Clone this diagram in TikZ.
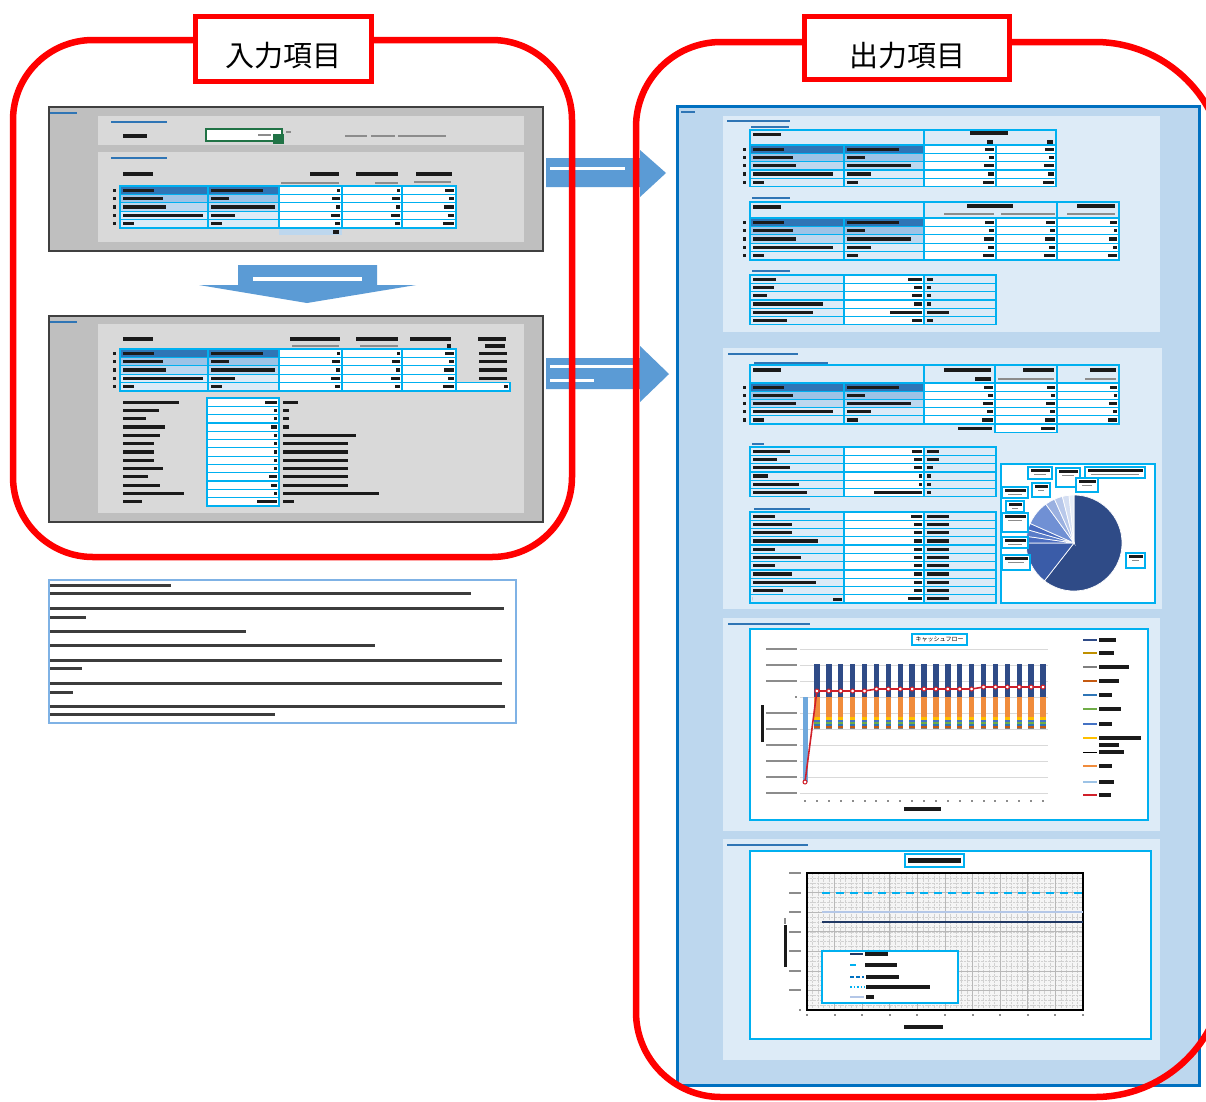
\documentclass[tikz,border=0pt]{standalone}
\usepackage{fontspec}
\newfontfamily\cjk{Noto Sans CJK JP}
\usetikzlibrary{arrows.meta, positioning, shadows}

\definecolor{framered}{HTML}{FF0000}
\definecolor{sheetgrey}{HTML}{BFBFBF}
\definecolor{boxgrey}{HTML}{D9D9D9}
\definecolor{arrowblue}{HTML}{5B9BD5}
\definecolor{outblue}{HTML}{0070C0}
\definecolor{outfill}{HTML}{BDD7EE}
\definecolor{subfill}{HTML}{DDEBF7}
\definecolor{cellcyan}{HTML}{00B0F0}
\definecolor{rowa}{HTML}{2E75B6}
\definecolor{rowb}{HTML}{9DC3E6}
\definecolor{rowc}{HTML}{BDD7EE}
\definecolor{rowd}{HTML}{DDEBF7}
\definecolor{inkblack}{HTML}{1A1A1A}
\definecolor{inkblue}{HTML}{2F75B5}
\definecolor{inputgreen}{HTML}{217346}
\definecolor{notebox}{HTML}{7FB2E5}
\definecolor{navy}{HTML}{2F4B87}
\definecolor{cforange}{HTML}{F08C3C}
\definecolor{cfyellow}{HTML}{FFC000}
\definecolor{cfblue}{HTML}{4472C4}
\definecolor{cfgreen}{HTML}{70AD47}
\definecolor{cfdblue}{HTML}{2E75B6}
\definecolor{cfbrown}{HTML}{C55A11}
\definecolor{cfgrey}{HTML}{7F7F7F}
\definecolor{cfgold}{HTML}{BF9000}
\definecolor{cfpale}{HTML}{6FA8DC}
\definecolor{cflight}{HTML}{9DC3E6}
\definecolor{cfred}{HTML}{D0202A}
\definecolor{lavender}{HTML}{B4C7E7}
\definecolor{deepnavy}{HTML}{203864}
\definecolor{pieb}{HTML}{3A5CA8}
\definecolor{piec}{HTML}{4A6CC0}
\definecolor{pied}{HTML}{5A7CC8}
\definecolor{piee}{HTML}{7090D4}
\definecolor{pief}{HTML}{9AB0E0}
\definecolor{pieg}{HTML}{B8C8EA}
\definecolor{pieh}{HTML}{D4DEF2}
\definecolor{piei}{HTML}{E8EEF8}

% blurred text shown as bars
\newcommand{\txbar}[3]{\fill[ink] (#1,{#2-1.6}) rectangle ++(#3,3.2);}
\newcommand{\txright}[3]{\fill[ink] (#1,{#2-1.6}) rectangle ++(-#3,3.2);}
\newcommand{\txblue}[3]{\fill[inkb] (#1,{#2-1.4}) rectangle ++(#3,2.8);}
\newcommand{\txgrey}[3]{\fill[inkg] (#1,{#2-1.2}) rectangle ++(#3,2.4);}

% five item rows with coloured label cells
\newcommand{\itemrows}[5]{%
  \foreach \ri/\rc/\wa/\wb in {0/rowa/31/52,1/rowb/40/18,2/rowc/43/64,3/rowd/80/24,4/rowd/11/11}{
    \draw[cell, fill=\rc] (#1,{#4+\ri*#5}) rectangle (#2,{#4+\ri*#5+#5});
    \draw[cell, fill=\rc] (#2,{#4+\ri*#5}) rectangle (#3,{#4+\ri*#5+#5});
    \fill[ink] ({#1+2.5},{#4+\ri*#5+#5/2-1.6}) rectangle ++(\wa,3.2);
    \fill[ink] ({#2+2.5},{#4+\ri*#5+#5/2-1.6}) rectangle ++(\wb,3.2);
    \fill[ink] ({#1-7},{#4+\ri*#5+#5/2-1.6}) rectangle ++(3,3.2);
  }}

% white number cells
\newcommand{\numcells}[4]{%
  \foreach \ri in {0,...,#3}{
    \foreach \xa/\xb in {#4}{
      \draw[cell, fill=white] (\xa,{#1+\ri*#2}) rectangle (\xb,{#1+\ri*#2+#2});
      \fill[ink] ({\xb-2.5},{#1+\ri*#2+#2/2-1.6}) rectangle ++({-3-mod(\ri*5+\xa,9)},3.2);
    }}}

% label / value / unit rows
\newcommand{\kvtable}[3]{%
  \foreach \ri/\wa/\wn/\wu in {#3}{
    \draw[cell, fill=rowd] (750,{#1+\ri*#2}) rectangle (844,{#1+\ri*#2+#2});
    \draw[cell, fill=white] (844,{#1+\ri*#2}) rectangle (924,{#1+\ri*#2+#2});
    \draw[cell, fill=rowd] (924,{#1+\ri*#2}) rectangle (996,{#1+\ri*#2+#2});
    \fill[ink] (752.5,{#1+\ri*#2+#2/2-1.6}) rectangle ++(\wa,3.2);
    \fill[ink] (921.5,{#1+\ri*#2+#2/2-1.6}) rectangle ++(-\wn,3.2);
    \fill[ink] (926.5,{#1+\ri*#2+#2/2-1.6}) rectangle ++(\wu,3.2);
  }}

\begin{document}
\begin{tikzpicture}[x=1pt, y=-1pt,
    redframe/.style={draw=framered, line width=6.5pt},
    titlebox/.style={draw=framered, line width=5pt, fill=white, inner sep=0pt},
    titletext/.style={inner sep=0pt, font=\cjk\fontsize{29}{32}\selectfont},
    sheet/.style={fill=sheetgrey, draw=black!75, line width=2pt},
    cell/.style={draw=cellcyan, line width=1.2pt},
    ink/.style={fill=inkblack},
    inkb/.style={fill=inkblue},
    inkg/.style={fill=black!45},
    chartbox/.style={draw=cellcyan, line width=2pt, fill=white},
    ctitle/.style={draw=cellcyan, line width=1.5pt, fill=white, inner sep=0pt,
      drop shadow={shadow xshift=1.2pt, shadow yshift=-1.2pt, fill=black!35}},
    cfgrid/.style={draw=black!15, line width=0.8pt},
    cfline/.style={draw=cfred, line width=1.6pt},
    cfmark/.style={draw=cfred, fill=white, line width=1pt},
    minorgrid/.style={draw=black!18, line width=0.4pt, densely dotted},
    majorgrid/.style={draw=black!28, line width=0.7pt}]
\useasboundingbox (0,0) rectangle (1206,1101);
\clip (0,0) rectangle (1206,1101);
\fill[white] (0,0) rectangle (1206,1101);

% ---- input sheet, upper part
\draw[sheet] (49,107) rectangle (543,251);
\fill[boxgrey] (98,116) rectangle (524,145);
\fill[boxgrey] (98,152) rectangle (524,242);
\txblue{50}{113}{27}
\txblue{111}{122}{56}
\txbar{123}{136}{24}
\draw[draw=inputgreen, line width=2.5pt, fill=white] (206,129) rectangle (282,141);
\fill[inputgreen] (273,134) rectangle (284,144);
\txgrey{258}{135}{13}
\txgrey{286}{132}{5}
\txgrey{345}{136}{22}
\txgrey{371}{136}{24}
\txgrey{398}{136}{48}
\txblue{111}{158}{56}
\txbar{123}{174}{30}
\txbar{310}{174}{29}
\txgrey{281}{183}{58}
\txbar{356}{174}{42}
\txgrey{375}{183}{23}
\txbar{416}{174}{36}
\txgrey{414}{182}{37}
\itemrows{120}{208}{279}{186}{8.4}
\numcells{186}{8.4}{4}{279/342,342/402,402/456}
\fill[rowc] (279,229) rectangle (342,235);
\txright{339}{232}{6}

% ---- arrow between input sheets
\fill[arrowblue] (238,265) -- (377,265) -- (377,285) -- (416,285) -- (307,303)
  -- (199,285) -- (238,285) -- cycle;
\fill[white] (253,276.5) rectangle (362,280.5);

% ---- input sheet, lower part
\draw[sheet] (49,316) rectangle (543,522);
\fill[boxgrey] (98,324) rectangle (524,513);
\txblue{50}{322}{27}
\txbar{123}{339}{30}
\txbar{290}{339}{50}
\txgrey{292}{346}{47}
\txbar{356}{339}{42}
\txgrey{360}{346}{38}
\txbar{410}{339}{41}
\txbar{447}{346}{4}
\txbar{478}{339}{28}
\txbar{485}{346}{20}
\itemrows{120}{208}{279}{349}{8.4}
\numcells{349}{8.4}{4}{279/342,342/402,402/456}
\draw[cell, fill=white] (456,382.6) rectangle (510,391);
\txright{507.5}{386.8}{4}
\foreach \ri in {0,...,3}{
  \fill[ink] (479,{353.2+\ri*8.4-1.6}) rectangle ++(28,3.2);
}
\foreach \ri/\wa/\wn/\wu in {0/56/12/15,1/36/3/6,2/23/3/6,3/42/6/6,4/37/3/73,
    5/31/3/65,6/31/3/65,7/31/3/65,8/40/3/65,9/25/8/65,10/37/6/65,11/61/3/96,12/19/20/11}{
  \fill[ink] (123,{402.15+\ri*8.3-1.6}) rectangle ++(\wa,3.2);
  \draw[cell, fill=white] (207,{398+\ri*8.3}) rectangle (279,{406.3+\ri*8.3});
  \fill[ink] (276.5,{402.15+\ri*8.3-1.6}) rectangle ++(-\wn,3.2);
  \fill[ink] (283,{402.15+\ri*8.3-1.6}) rectangle ++(\wu,3.2);
}

% ---- note box
\draw[draw=notebox, line width=1.5pt, fill=white] (49,580) rectangle (516,723);
\foreach \ly/\lx in {585/171,593/471,608/504,617/86,631/246,645/375,660/502,
    668/82,683/502,692/73,706/505,714/275}{
  \fill[ink, opacity=.85] (50,{\ly-1.5}) rectangle (\lx,{\ly+1.5});
}

% ---- arrows to the output
\fill[arrowblue] (546,158) -- (640,158) -- (640,150) -- (666,173) -- (640,197)
  -- (640,187) -- (546,187) -- cycle;
\fill[white] (550,166.5) rectangle (625,170);
\fill[arrowblue] (546,358) -- (640,358) -- (640,346) -- (669,374) -- (640,402)
  -- (640,389) -- (546,389) -- cycle;
\fill[white] (550,364.5) rectangle (633,368);
\fill[white] (550,378.5) rectangle (594,382);

% ---- output sheet
\draw[draw=outblue, line width=3pt, fill=outfill] (677,106) rectangle (1199,1085);
\txblue{681}{112}{14}
\fill[subfill] (723,116) rectangle (1160,332);
\fill[subfill] (723,348) rectangle (1162,609);
\fill[subfill] (723,618) rectangle (1160,831);
\fill[subfill] (723,839) rectangle (1160,1060);

% first block
\txblue{727}{121}{63}
\txblue{751}{127}{38}
\draw[cell, fill=subfill] (750,130) rectangle (924,145);
\draw[cell, fill=subfill] (924,130) rectangle (1056,145);
\txbar{753}{134.5}{28}
\txbar{970}{133}{38}
\txright{993}{142}{6}
\txright{1053}{142}{6}
\itemrows{750}{844}{924}{145}{8.3}
\numcells{145}{8.3}{4}{924/996,996/1056}

\txblue{752}{198}{38}
\draw[cell, fill=subfill] (750,202) rectangle (924,218);
\draw[cell, fill=subfill] (924,202) rectangle (1057,218);
\draw[cell, fill=subfill] (1057,202) rectangle (1119,218);
\txbar{753}{207}{28}
\txbar{967}{206}{46}
\txgrey{944}{214}{50}
\txgrey{1001}{214}{54}
\txbar{1077}{206}{38}
\txgrey{1067}{214}{48}
\itemrows{750}{844}{924}{218}{8.4}
\numcells{218}{8.4}{4}{924/996,996/1057,1057/1119}

\txblue{752}{271}{38}
\kvtable{275}{8.3}{0/23/14/6,1/21/8/4,2/14/10/4,3/70/8/4,4/60/32/22,5/34/10/6}

% second block
\txblue{728}{354}{70}
\txblue{754}{363}{74}
\draw[cell, fill=subfill] (750,365) rectangle (924,383);
\draw[cell, fill=subfill] (924,365) rectangle (995,383);
\draw[cell, fill=subfill] (995,365) rectangle (1057,383);
\draw[cell, fill=subfill] (1057,365) rectangle (1119,383);
\txbar{753}{370}{28}
\txbar{944}{370}{47}
\txbar{975}{379}{16}
\txbar{1023}{370}{31}
\txgrey{998}{379}{56}
\txbar{1090}{370}{26}
\txgrey{1085}{379}{31}
\itemrows{750}{844}{924}{383}{8.2}
\numcells{383}{8.2}{4}{924/995,995/1057,1057/1119}
\draw[cell, fill=white] (995,424) rectangle (1057,432.2);
\txright{1054.5}{428.1}{14}
\txbar{958}{428.1}{34}

\txblue{752}{444}{12}
\kvtable{447}{8.3}{0/37/10/12,1/24/8/12,2/37/8/6,3/15/3/4,4/46/3/4,5/54/48/4}

\txblue{754}{509}{56}
\kvtable{512}{8.27}{0/22/11/22,1/39/8/22,2/39/8/22,3/65/8/22,4/22/8/22,5/48/8/22,
  6/22/8/22,7/39/8/22,8/63/8/22,9/30/8/22,10/0/14/22}
\txright{842}{599.6}{9}

% pie chart
\draw[cell, line width=1.5pt, fill=white] (1001,464) rectangle (1155,603);
\foreach \a/\b/\pc in {-90/128/navy,128/180/pieb,180/188/piec,188/196/pied,
    196/204/piec,204/234/piee,234/246/pief,246/256/pieg,256/264/pieh,264/270/piei}{
  \filldraw[fill=\pc, draw=white, line width=0.7pt] (1074,543) -- ++(\a:48)
    arc[start angle=\a, end angle=\b, radius=48] -- cycle;
}
\foreach \xa/\ya/\xb/\yb in {1028/467/1052/479,1056/468/1080/487,1085/467/1145/478,
    1076/478/1098/492,1002/487/1028/498,1032/483/1050/497,1006/501/1024/512,
    1002/513/1028/532,1002/537/1028/548,1002/555/1030/570,1126/553/1145/568}{
  \draw[cell, fill=white] (\xa,\ya) rectangle (\xb,\yb);
  \fill[ink] ({\xa+2.5},{\ya+2}) rectangle ({\xb-2.5},{\ya+5});
  \fill[inkg] ({\xa+6},{\ya+6.5}) rectangle ({\xb-6},{\ya+8});
}

% cash flow chart
\txblue{728}{624}{82}
\draw[chartbox] (750,629) rectangle (1148,820);
\node[ctitle, minimum width=55pt, minimum height=11pt,
  font=\cjk\fontsize{6}{6}\selectfont] (cftitle) at (939.5,639.5) {キャッシュフロー};
\foreach \k in {-3,...,6}{
  \draw[cfgrid] (800,{697+16*\k}) -- (1048,{697+16*\k});
}
\foreach \k in {-3,-2,-1,1,2,3,4,5,6}{
  \fill[inkg] (766,{697+16*\k-1}) rectangle (797,{697+16*\k+1});
}
\fill[inkg] (795,696) rectangle (797,698);
\fill[cfpale] (802.5,697) rectangle (807.5,782);
\foreach \i in {1,...,20}{
  \pgfmathsetmacro\bx{805+11.9*\i}
  \fill[navy] ({\bx-2.7},664) rectangle ({\bx+2.7},697);
  \foreach \ya/\yb/\sc in {697/717/cforange,717/719.5/cfyellow,719.5/721.5/cfblue,
      721.5/724/cfgreen,724/726/cfdblue,726/728/cfbrown,728/729/cfgrey}{
    \fill[\sc] ({\bx-2.7},\ya) rectangle ({\bx+2.7},\yb);
  }
}
\foreach \i in {0,...,20}{
  \pgfmathsetmacro\px{805+11.9*\i}
  \pgfmathsetmacro\py{\i==0 ? 782 : (\i<6 ? 691 : (\i<15 ? 689 : 687))}
  \coordinate (cf\i) at (\px,\py);
  \fill[inkg] ({\px-1},799.5) rectangle ({\px+1},801.5);
}
\draw[cfline] (cf0) \foreach \i in {1,...,20}{ -- (cf\i)};
\foreach \i in {0,...,20}{
  \draw[cfmark] (cf\i) circle[radius=2];
}
\fill[ink] (760.5,705) rectangle (763.5,742);
\txbar{904}{809}{37}
\foreach \lc/\ly/\lw in {navy/640/17,cfgold/653/15,cfgrey/667/30,cfbrown/681/20,
    cfdblue/695/13,cfgreen/709/22,cfblue/724/13,cfyellow/738/42,cforange/766/13,
    cflight/782/15}{
  \draw[line width=2.6pt, \lc] (1083,\ly) -- (1097,\ly);
  \txbar{1099}{\ly}{\lw}
}
\txbar{1099}{745}{20}
\draw[line width=0.6pt, black] (1083,752) -- (1097,752);
\txbar{1099}{752}{25}
\draw[line width=1.3pt, cfred] (1083,795) -- (1097,795);
\txbar{1099}{795}{12}

% line chart
\txblue{727}{845}{81}
\draw[chartbox] (750,851) rectangle (1151,1039);
\node[ctitle, minimum width=59pt, minimum height=13pt] (bttitle) at (934.5,860.5) {};
\fill[ink] (908,858) rectangle (961,863);
\fill[black!4] (807,873) rectangle (1083,1010);
\foreach \gx in {1,...,49}{
  \draw[minorgrid] ({807+5.52*\gx},873) -- ++(0,137);
}
\foreach \gy in {1,...,27}{
  \draw[minorgrid] (807,{873+4.893*\gy}) -- ++(276,0);
}
\foreach \gx in {1,...,9}{
  \draw[majorgrid] ({807+27.6*\gx},873) -- ++(0,137);
}
\foreach \gy in {1,...,6}{
  \draw[majorgrid] (807,{873+19.57*\gy}) -- ++(276,0);
}
\draw[line width=1.5pt, black] (807,873) rectangle (1083,1010);
\foreach \gy in {0,...,6}{
  \fill[inkg] (789,{873+19.57*\gy-1}) rectangle (801,{873+19.57*\gy+1});
}
\fill[inkg] (799,1009) rectangle (801,1011);
\foreach \gx in {0,...,10}{
  \fill[inkg] ({806+27.6*\gx},1014) rectangle ({808+27.6*\gx},1016);
}
\fill[ink] (783.5,925) rectangle (786.5,967);
\fill[inkg] (784,918) rectangle (786,924);
\txbar{904}{1027}{39}
\draw[line width=1.6pt, cellcyan, dash pattern=on 8pt off 6pt] (822,893) -- (1083,893);
\draw[line width=1.3pt, lavender] (822,912) -- (1083,912);
\draw[line width=1.6pt, deepnavy] (822,922) -- (1083,922);
\draw[chartbox] (822,951) rectangle (958,1003);
\draw[line width=1.5pt, deepnavy] (850,954) -- (863,954);
\txbar{865}{954}{23}
\draw[line width=1.5pt, cellcyan] (850,965) -- (856,965);
\txbar{865}{965}{32}
\draw[line width=1.5pt, outblue, dash pattern=on 4pt off 2pt] (850,977) -- (864,977);
\txbar{866}{977}{33}
\draw[line width=1.5pt, cellcyan, dash pattern=on 1.5pt off 2pt] (850,987) -- (865,987);
\txbar{866}{987}{64}
\draw[line width=1.3pt, lavender] (850,997) -- (864,997);
\txbar{866}{997}{8}

% ---- red frames and headings
\draw[redframe, rounded corners=80pt] (13,40) rectangle (572,557);
\draw[redframe] (721,42) -- (1095,42) arc[start angle=-90, end angle=0, radius=130]
  -- (1225,967) arc[start angle=0, end angle=90, radius=130]
  -- (721,1097) arc[start angle=90, end angle=180, radius=85]
  -- (636,127) arc[start angle=180, end angle=270, radius=85] -- cycle;
\node[titlebox, minimum width=176pt, minimum height=65pt] (inhead) at (283.5,49) {};
\node[titletext] at ([yshift=-7pt]inhead.center) {入力項目};
\node[titlebox, minimum width=205pt, minimum height=63pt] (outhead) at (907,48) {};
\node[titletext] at ([yshift=-8pt]outhead.center) {出力項目};
\end{tikzpicture}
\end{document}
